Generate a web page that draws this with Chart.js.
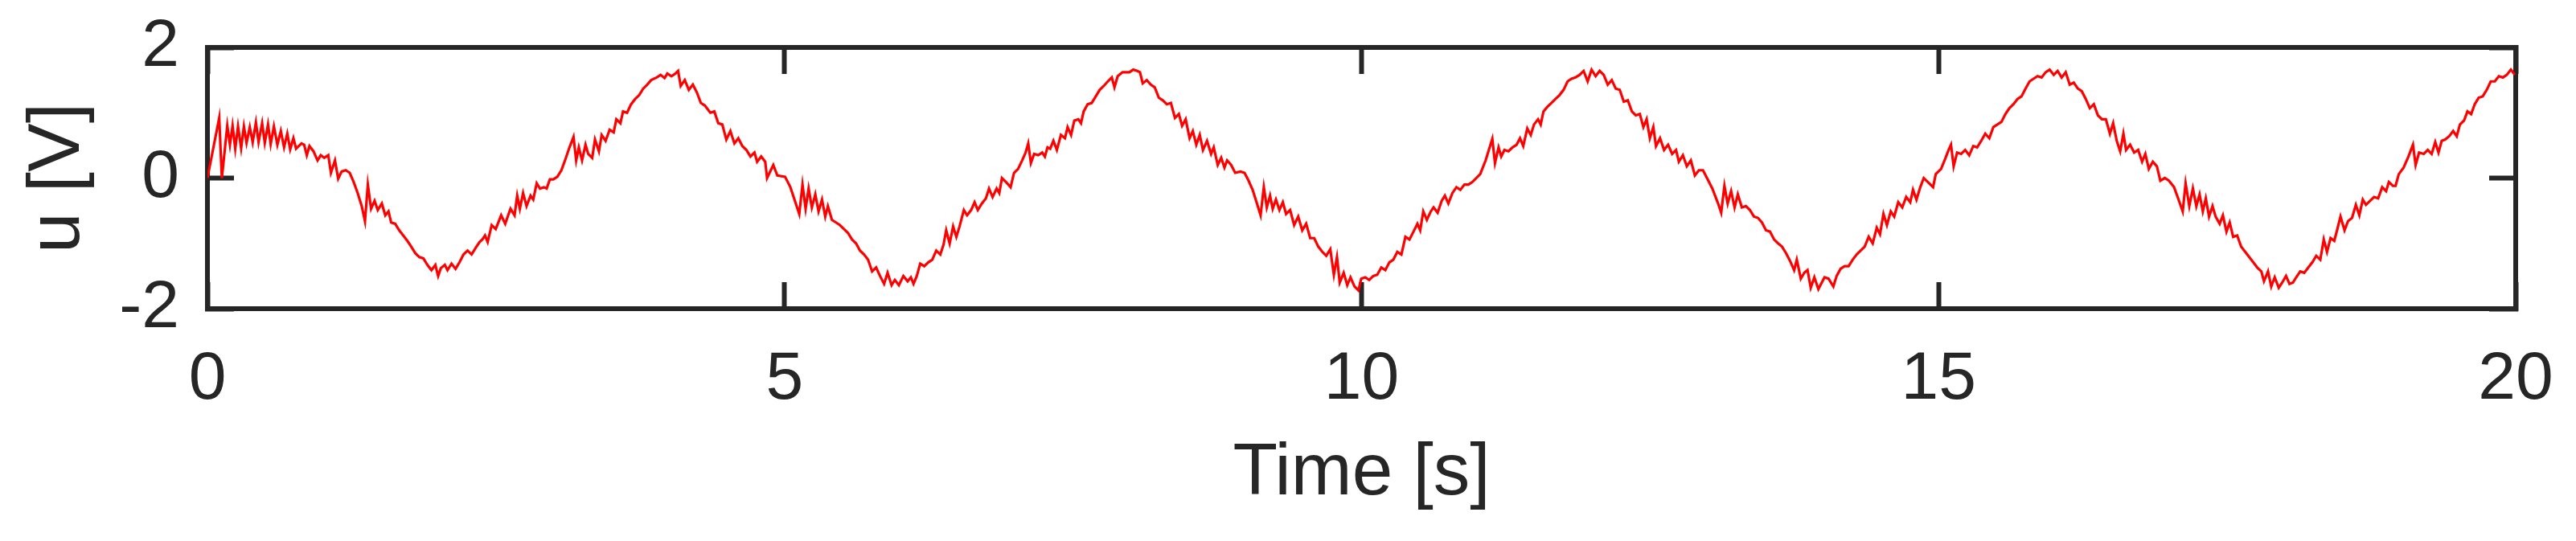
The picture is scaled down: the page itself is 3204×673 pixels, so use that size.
<!DOCTYPE html>
<html>
<head>
<meta charset="utf-8">
<title>u [V] vs Time [s]</title>
<script src="https://cdn.jsdelivr.net/npm/chart.js@4.4.1/dist/chart.umd.min.js"></script>
<style>
  html, body { margin: 0; padding: 0; background: #fff; }
  #wrap { width: 3204px; height: 673px; }
</style>
</head>
<body>
<div id="wrap"><canvas id="chart" width="3204" height="673"></canvas></div>
<script>
// time stamps [s]
const time = [
  0, 0.102, 0.125, 0.172, 0.195, 0.218, 0.241, 0.265, 0.292, 0.316, 0.339, 0.367, 0.392, 0.420, 0.443, 0.474,
  0.497, 0.525, 0.548, 0.576, 0.606, 0.636, 0.664, 0.692, 0.717, 0.745, 0.768, 0.815, 0.838, 0.861, 0.884,
  0.919, 0.954, 0.982, 1.012, 1.047, 1.070, 1.105, 1.133, 1.163, 1.198, 1.233, 1.267, 1.302, 1.337, 1.365,
  1.390, 1.418, 1.448, 1.476, 1.511, 1.541, 1.569, 1.592, 1.627, 1.662, 1.697, 1.732, 1.766, 1.801, 1.836,
  1.871, 1.906, 1.941, 1.975, 1.999, 2.022, 2.057, 2.080, 2.115, 2.150, 2.184, 2.219, 2.254, 2.289, 2.324,
  2.358, 2.382, 2.405, 2.428, 2.463, 2.498, 2.545, 2.580, 2.626, 2.661, 2.684, 2.707, 2.735, 2.765, 2.800,
  2.823, 2.853, 2.881, 2.916, 2.939, 2.967, 2.997, 3.032, 3.067, 3.102, 3.137, 3.172, 3.195, 3.218, 3.246,
  3.276, 3.299, 3.334, 3.358, 3.392, 3.416, 3.450, 3.485, 3.520, 3.543, 3.578, 3.601, 3.636, 3.671, 3.706,
  3.741, 3.776, 3.810, 3.845, 3.892, 3.927, 3.961, 3.985, 4.020, 4.055, 4.078, 4.101, 4.136, 4.171, 4.206,
  4.241, 4.275, 4.310, 4.357, 4.392, 4.426, 4.461, 4.496, 4.531, 4.566, 4.600, 4.635, 4.670, 4.705, 4.740,
  4.763, 4.798, 4.833, 4.849, 4.903, 4.938,
  5.005, 5.051, 5.098, 5.128, 5.156, 5.183, 5.209, 5.237, 5.267, 5.295, 5.325, 5.353, 5.376, 5.411, 5.446,
  5.480, 5.515, 5.550, 5.585, 5.620, 5.654, 5.689, 5.724, 5.759, 5.794, 5.828, 5.863, 5.893, 5.928, 5.956,
  5.991, 6.030, 6.067, 6.095, 6.118, 6.146, 6.176, 6.211, 6.246, 6.280, 6.315, 6.350, 6.378, 6.401, 6.431,
  6.461, 6.489, 6.517, 6.554, 6.582, 6.617, 6.647, 6.675, 6.710, 6.745, 6.772, 6.803, 6.838, 6.861, 6.884,
  6.919, 6.959, 6.989, 7.024, 7.059, 7.089, 7.112, 7.135, 7.163, 7.198, 7.233, 7.256, 7.279, 7.302, 7.330,
  7.360, 7.395, 7.430, 7.453, 7.483, 7.511, 7.546, 7.569, 7.592, 7.627, 7.662, 7.697, 7.731, 7.766, 7.801,
  7.836, 7.859, 7.887, 7.929,
  7.988, 8.022, 8.057, 8.080, 8.104, 8.139, 8.174, 8.208, 8.243, 8.278, 8.313, 8.348, 8.383, 8.417, 8.445,
  8.476, 8.510, 8.538, 8.568, 8.598, 8.626, 8.661, 8.696, 8.719, 8.754, 8.784, 8.812, 8.835, 8.870, 8.905,
  8.951, 8.986, 9.021, 9.056, 9.090, 9.125, 9.153, 9.179, 9.207, 9.230, 9.258, 9.288, 9.318, 9.346, 9.381,
  9.416, 9.451, 9.486, 9.520, 9.555, 9.590, 9.625, 9.660, 9.694, 9.729, 9.760, 9.787, 9.811, 9.845, 9.876,
  9.904, 9.939, 9.973, 9.997, 10.032, 10.066, 10.101, 10.136, 10.171, 10.206, 10.241, 10.275, 10.310, 10.345,
  10.380, 10.415, 10.450, 10.484, 10.508, 10.535, 10.566, 10.600, 10.624, 10.659, 10.694, 10.722, 10.752,
  10.787, 10.822, 10.856, 10.891, 10.926, 10.961,
  11.028, 11.075, 11.110, 11.133, 11.156, 11.187, 11.210, 11.238, 11.273, 11.308, 11.343, 11.373, 11.401,
  11.436, 11.466, 11.494, 11.529, 11.552, 11.576, 11.610, 11.645, 11.680, 11.715, 11.750, 11.785, 11.819,
  11.854, 11.889, 11.924, 11.959, 11.993, 12.028, 12.063, 12.098, 12.133, 12.168, 12.202, 12.237, 12.272,
  12.307, 12.342, 12.376, 12.411, 12.442, 12.470, 12.498, 12.528, 12.551, 12.586, 12.621, 12.656, 12.691,
  12.725, 12.749, 12.784, 12.818, 12.853, 12.888, 12.923, 12.958, 12.993, 13.039, 13.085, 13.116, 13.144,
  13.172, 13.202, 13.232, 13.260, 13.295, 13.330, 13.365, 13.400, 13.434, 13.469, 13.504, 13.539, 13.574,
  13.609, 13.643, 13.678, 13.713, 13.748, 13.771, 13.806, 13.836, 13.864, 13.892, 13.923, 13.958,
  14.011, 14.046, 14.088, 14.116, 14.150, 14.185, 14.220, 14.255, 14.290, 14.325, 14.359, 14.394, 14.429,
  14.464, 14.492, 14.522, 14.552, 14.585, 14.615, 14.650, 14.685, 14.719, 14.754, 14.778, 14.808, 14.841,
  14.871, 14.906, 14.952, 14.975, 15.021, 15.056, 15.086, 15.107, 15.130, 15.160, 15.195, 15.230, 15.265,
  15.300, 15.334, 15.369, 15.404, 15.439, 15.474, 15.509, 15.544, 15.579, 15.613, 15.648, 15.683, 15.718,
  15.753, 15.788, 15.822, 15.857, 15.892, 15.927, 15.962, 15.997, 16.031, 16.066, 16.101, 16.136, 16.171,
  16.206, 16.240, 16.275, 16.310, 16.345, 16.380, 16.415, 16.449, 16.484, 16.512, 16.543, 16.573, 16.601,
  16.624, 16.659, 16.694, 16.729, 16.763, 16.791, 16.821, 16.856, 16.891, 16.921, 16.960, 16.995,
  17.040, 17.075, 17.115, 17.140, 17.172, 17.203, 17.233, 17.261, 17.289, 17.315, 17.343, 17.373, 17.400,
  17.435, 17.463, 17.494, 17.522, 17.552, 17.587, 17.621, 17.656, 17.691, 17.726, 17.761, 17.796, 17.819,
  17.854, 17.882, 17.912, 17.947, 17.977, 18.010, 18.040, 18.070, 18.098, 18.133, 18.168, 18.203, 18.238,
  18.272, 18.307, 18.337, 18.365, 18.396, 18.428, 18.452, 18.482, 18.517, 18.547, 18.582, 18.615, 18.645,
  18.675, 18.703, 18.738, 18.773, 18.808, 18.843, 18.877, 18.901, 18.936, 18.959, 18.987, 19.029, 19.071,
  19.110, 19.133, 19.163, 19.203, 19.238, 19.272, 19.303, 19.331, 19.359, 19.389, 19.424, 19.458, 19.489,
  19.517, 19.552, 19.582, 19.614, 19.645, 19.679, 19.714, 19.749, 19.784, 19.819, 19.854, 19.889, 19.923,
  19.958, 19.993
]

// u [V] at those times
const u = [
  0, 0.92, 0, 0.80, 0.51, 0.80, 0.45, 0.79, 0.46, 0.79, 0.54, 0.78, 0.55, 0.85, 0.55, 0.84,
  0.54, 0.82, 0.52, 0.79, 0.51, 0.72, 0.47, 0.68, 0.44, 0.61, 0.45, 0.53, 0.51, 0.35, 0.49,
  0.41, 0.27, 0.35, 0.31, 0.35, 0.08, 0.27, -0.01, 0.10, 0.12, 0.08, -0.06, -0.23, -0.43, -0.66,
  -0.10, -0.47, -0.35, -0.49, -0.39, -0.57, -0.51, -0.68, -0.70, -0.80, -0.88, -0.96, -1.05, -1.15, -1.21,
  -1.23, -1.33, -1.41, -1.33, -1.50, -1.38, -1.33, -1.41, -1.31, -1.39, -1.29, -1.17, -1.11, -1.17, -1.07,
  -0.98, -0.94, -0.88, -0.98, -0.72, -0.78, -0.57, -0.70, -0.47, -0.57, -0.27, -0.47, -0.23, -0.43, -0.27,
  -0.33, -0.08, -0.16, -0.14, -0.16, -0.02, -0.02, 0.02, 0.12, 0.29, 0.47, 0.63, 0.27, 0.47, 0.27,
  0.51, 0.37, 0.31, 0.59, 0.41, 0.66, 0.57, 0.74, 0.70, 0.90, 0.84, 1.02, 1.00, 1.13, 1.21,
  1.27, 1.37, 1.43, 1.50, 1.54, 1.58, 1.53, 1.60, 1.56, 1.60, 1.64, 1.41, 1.50, 1.35, 1.43,
  1.31, 1.15, 1.11, 1.00, 1.02, 0.84, 0.82, 0.59, 0.72, 0.53, 0.61, 0.49, 0.43, 0.33, 0.39,
  0.25, 0.33, 0.25, 0.00, 0.20, 0.04,
  0.02, -0.14, -0.39, -0.55, -0.10, -0.47, -0.16, -0.45, -0.25, -0.51, -0.33, -0.59, -0.43, -0.64, -0.68,
  -0.72, -0.78, -0.84, -0.94, -1.00, -1.11, -1.17, -1.25, -1.43, -1.37, -1.50, -1.62, -1.45, -1.64, -1.56,
  -1.64, -1.50, -1.58, -1.52, -1.62, -1.50, -1.31, -1.35, -1.29, -1.25, -1.11, -1.17, -1.02, -0.80, -1.00,
  -0.74, -0.90, -0.74, -0.49, -0.57, -0.49, -0.37, -0.49, -0.39, -0.31, -0.16, -0.29, -0.16, -0.23, 0.00,
  -0.06, -0.14, 0.08, 0.14, 0.27, 0.39, 0.53, 0.23, 0.37, 0.35, 0.39, 0.33, 0.47, 0.45, 0.57,
  0.43, 0.66, 0.61, 0.78, 0.66, 0.88, 0.90, 0.84, 1.02, 1.13, 1.15, 1.25, 1.35, 1.41, 1.48,
  1.54, 1.39, 1.56, 1.62,
  1.62, 1.66, 1.64, 1.62, 1.45, 1.50, 1.43, 1.39, 1.23, 1.19, 1.13, 1.15, 0.92, 0.98, 0.80,
  0.90, 0.61, 0.72, 0.51, 0.66, 0.43, 0.57, 0.37, 0.47, 0.20, 0.31, 0.16, 0.27, 0.20, 0.08,
  0.10, 0.08, -0.04, -0.18, -0.37, -0.57, -0.14, -0.45, -0.27, -0.47, -0.33, -0.49, -0.37, -0.55, -0.49,
  -0.72, -0.59, -0.80, -0.70, -0.92, -0.92, -1.05, -1.13, -1.19, -1.09, -1.48, -1.21, -1.60, -1.45, -1.64,
  -1.52, -1.66, -1.72, -1.54, -1.52, -1.56, -1.50, -1.48, -1.37, -1.41, -1.29, -1.25, -1.13, -1.17,
  -0.90, -0.94, -0.82, -0.70, -0.80, -0.51, -0.64, -0.51, -0.45, -0.53, -0.35, -0.27, -0.39,
  -0.23, -0.14, -0.18, -0.10, -0.10, -0.06,
  0.06, 0.27, 0.47, 0.60, 0.23, 0.47, 0.33, 0.43, 0.41, 0.47, 0.51, 0.61, 0.49,
  0.76, 0.66, 0.82, 0.90, 0.82, 1.02, 1.09, 1.15, 1.21, 1.27, 1.35, 1.48, 1.52,
  1.54, 1.58, 1.64, 1.48, 1.66, 1.56, 1.64, 1.58, 1.43, 1.50, 1.37, 1.35, 1.17,
  1.19, 1.02, 0.96, 0.98, 0.78, 0.90, 0.61, 0.78, 0.49, 0.61, 0.43, 0.51, 0.37,
  0.43, 0.25, 0.35, 0.18, 0.27, 0.04, 0.12, 0.12, 0.00, -0.16, -0.37, -0.53, -0.12,
  -0.39, -0.20, -0.45, -0.25, -0.45, -0.43, -0.49, -0.59, -0.61, -0.68, -0.80, -0.82, -0.94,
  -1.00, -1.05, -1.15, -1.27, -1.41, -1.25, -1.54, -1.45, -1.41, -1.68, -1.52, -1.70,
  -1.52, -1.54, -1.66, -1.50, -1.39, -1.35, -1.35, -1.25, -1.17, -1.11, -1.05, -0.90, -1.00,
  -0.76, -0.86, -0.55, -0.72, -0.51, -0.59, -0.37, -0.45, -0.29, -0.37, -0.18, -0.33, -0.14,
  0.00, -0.06, -0.14, 0.06, 0.14, 0.29, 0.43, 0.51, 0.18, 0.39, 0.37, 0.43, 0.35,
  0.49, 0.47, 0.57, 0.68, 0.61, 0.78, 0.82, 0.86, 0.98, 1.07, 1.13, 1.21, 1.25,
  1.37, 1.48, 1.52, 1.56, 1.54, 1.62, 1.66, 1.58, 1.64, 1.54, 1.62, 1.43, 1.46,
  1.37, 1.33, 1.21, 1.07, 1.13, 0.96, 0.90, 0.90, 0.68, 0.84, 0.57, 0.41, 0.68,
  0.43, 0.51, 0.39, 0.43, 0.25, 0.37, 0.14, 0.25, 0.18, -0.04, 0.00, -0.04,
  -0.14, -0.31, -0.51, -0.08, -0.43, -0.16, -0.43, -0.25, -0.51, -0.31, -0.59, -0.43, -0.59,
  -0.70, -0.57, -0.82, -0.68, -0.90, -0.88, -1.05, -1.13, -1.21, -1.29, -1.37, -1.43, -1.58,
  -1.43, -1.66, -1.52, -1.68, -1.60, -1.50, -1.62, -1.60, -1.52, -1.43, -1.45, -1.37, -1.29,
  -1.19, -1.25, -0.94, -1.13, -0.92, -0.96, -0.80, -0.59, -0.80, -0.66, -0.61, -0.41, -0.57,
  -0.33, -0.41, -0.35, -0.29, -0.31, -0.14, -0.20, -0.06, -0.12, -0.12, 0.06, 0.16, 0.33,
  0.51, 0.20, 0.39, 0.37, 0.43, 0.37, 0.55, 0.39, 0.57, 0.59, 0.64, 0.72, 0.64,
  0.82, 0.88, 1.02, 0.98, 1.13, 1.23, 1.25, 1.35, 1.48, 1.48, 1.56, 1.54, 1.58,
  1.66, 1.58
]

const xTicks = [0, 5, 10, 15, 20]
const yTicks = [-2, 0, 2]

if (time.length !== u.length) console.warn("length mismatch", time.length, u.length)

const ink = "#262626"
Chart.defaults.font.family = "'Liberation Sans', Arial, sans-serif"
Chart.defaults.color = ink

const points = time.map((t, i) => ({ x: t, y: u[i] }))

// MATLAB-style box: inward ticks on all four sides
function boxAxis(position, ticks, lo, hi, showLabels, size) {
  const horizontal = position === "top" || position === "bottom"
  return {
    type: "linear",
    position,
    min: lo,
    max: hi,
    afterBuildTicks: (s) => { s.ticks = ticks.map((v) => ({ value: v })) },
    afterFit: (s) => {
      if (horizontal) s.height = size
      else s.width = size
      // keep the plot box fixed, labels may spill into the margins
      s.paddingLeft = s.paddingRight = s.paddingTop = s.paddingBottom = 0
    },
    grid: {
      display: true,
      drawOnChartArea: false,
      drawTicks: true,
      tickLength: -33,
      tickWidth: 6,
      tickColor: ink,
    },
    border: { display: true, color: ink, width: 6 },
    ticks: {
      display: showLabels,
      autoSkip: false,
      maxRotation: 0,
      color: ink,
      font: { size: 84 },
      padding: horizontal ? 71 : 68,
    },
  }
}

const xAxis = boxAxis("bottom", xTicks, 0, 20, true, 289)
xAxis.title = { display: true, text: "Time [s]", color: ink, font: { size: 91 }, padding: { top: 0, bottom: 28 } }
const yAxis = boxAxis("left", yTicks, -2, 2, true, 258)
yAxis.title = { display: true, text: "u [V]", color: ink, font: { size: 91 }, padding: { top: 18, bottom: 0 } }

new Chart(document.getElementById("chart"), {
  type: "line",
  data: {
    datasets: [{
      label: "u",
      data: points,
      xAxisID: "x",
      yAxisID: "y",
      borderColor: "#ff0000",
      borderWidth: 3.2,
      pointRadius: 0,
      tension: 0,
      fill: false,
    }],
  },
  options: {
    responsive: false,
    devicePixelRatio: 1,
    animation: false,
    layout: { padding: 0 },
    plugins: { legend: { display: false }, tooltip: { enabled: false } },
    scales: {
      x: xAxis,
      x2: boxAxis("top", xTicks, 0, 20, false, 59),
      y: yAxis,
      y2: boxAxis("right", yTicks, -2, 2, false, 75),
    },
  },
})
</script>
</body>
</html>
